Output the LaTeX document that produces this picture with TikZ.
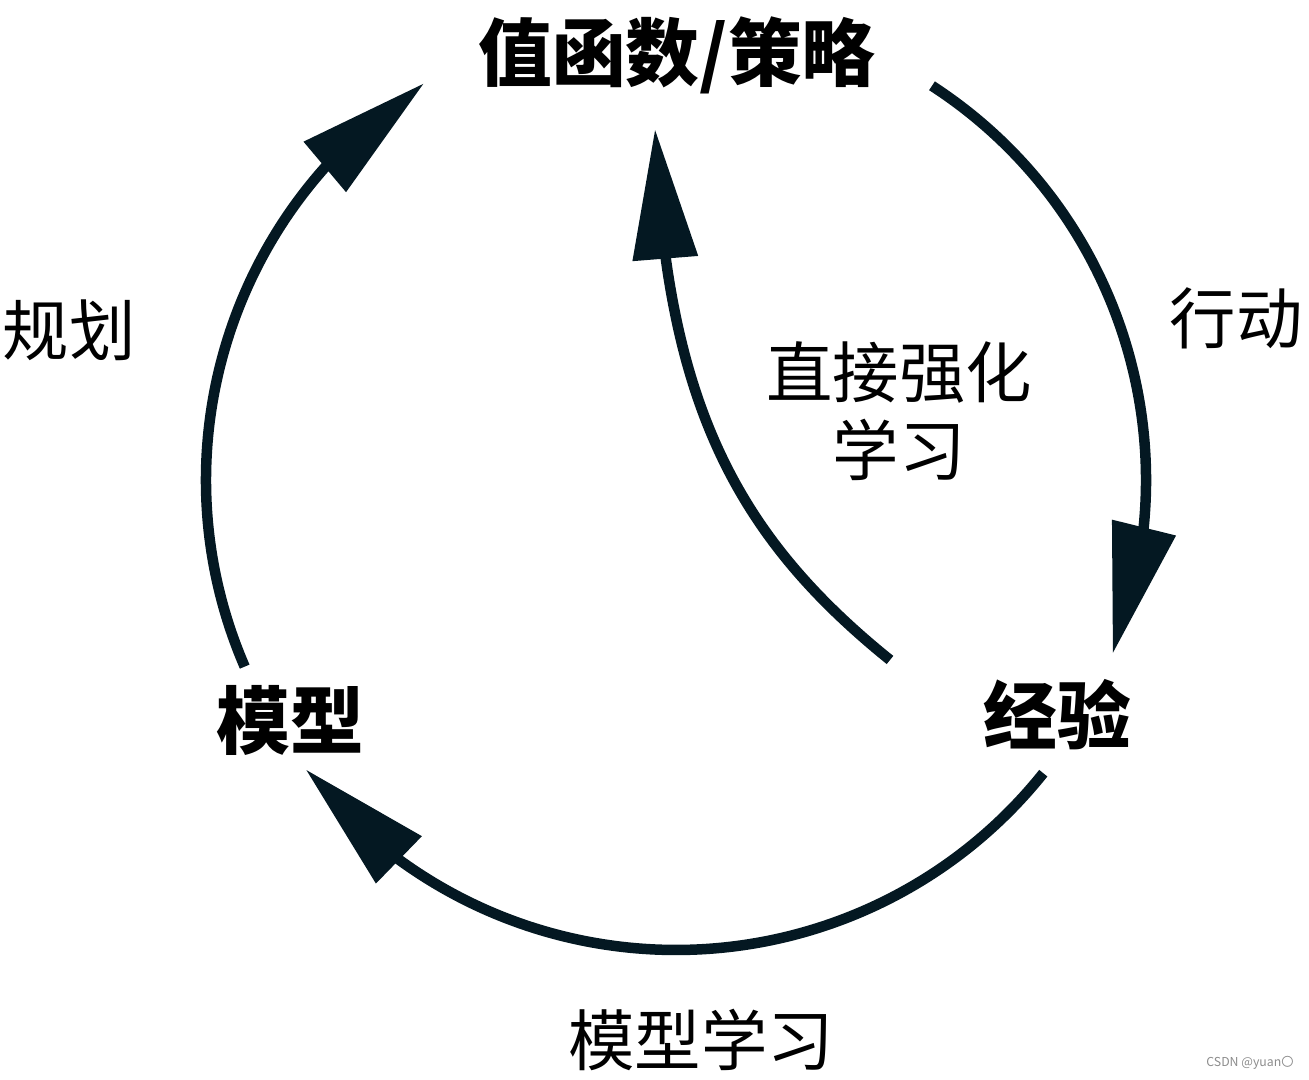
\documentclass[tikz,border=0pt]{standalone}
\usepackage{fontspec}
\newfontfamily\cjk{Noto Sans CJK SC}
\usetikzlibrary{arrows.meta,bending}
\definecolor{ink}{RGB}{4,24,34}

\begin{document}
\begin{tikzpicture}[x=0.2mm, y=0.2mm,
		flow/.style={draw=ink, line width=2.1mm, -{Triangle[length=26mm, width=12.6mm]}},
		hub/.style={font=\cjk\bfseries\fontsize{42pt}{50pt}\selectfont, inner sep=0pt},
		lbl/.style={font=\cjk\fontsize{37.8pt}{44.5pt}\selectfont, inner sep=0pt, align=center}]
		\useasboundingbox (0,0) rectangle (1309,1080);
		% the three stations of the loop
		\node[hub] (vp) at (677,1025) {值函数/策略};
		\node[hub] (md) at (290,360)  {模型};
		\node[hub] (ex) at (1057,365) {经验};
		% labels beside the arrows
		\node[lbl] (plan) at (69,750)   {规划};
		\node[lbl] (act)  at (1236,762) {行动};
		\node[lbl] (drl)  at (899,669)  {直接强化\\学习};
		\node[lbl] (ml)   at (701,40)   {模型学习};
		\node[font=\cjk\fontsize{7pt}{8pt}\selectfont, text=black!45, inner sep=0pt] (wm) at (1250,17) {CSDN @yuan〇};
		% loop centre and arc ends
		\coordinate (c) at (676,600);
		\coordinate (md-out) at ([shift={(c)}]203.4:470);
		\coordinate (vp-out) at ([shift={(c)}]57:470);
		\coordinate (ex-out) at ([shift={(c)}]-38.6:470);
		\coordinate (ex-up)  at (890,420);
		\coordinate (vp-in)  at (655,951);
		\draw[flow] (md-out) arc[start angle=203.4, end angle=122.4, radius=94mm];
		\draw[flow] (vp-out) arc[start angle=57, end angle=-21.7, radius=94mm];
		\draw[flow] (ex-out) arc[start angle=-38.6, end angle=-142, radius=94mm];
		\draw[flow] (ex-up) .. controls (735,545) and (665,680) .. (vp-in);
	\end{tikzpicture}
\end{document}
